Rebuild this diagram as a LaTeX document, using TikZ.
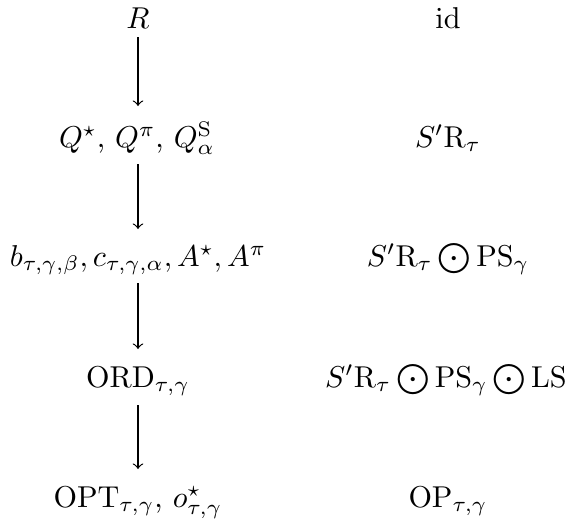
\documentclass[tikz,border=0pt]{standalone}
\usetikzlibrary{calc}
\begin{document}
\begin{tikzpicture}[x=0.3315pt,y=-0.3315pt,
  cell/.style={anchor=base,inner sep=0pt},
  flow/.style={->,line width=0.4pt}]
\useasboundingbox (0,0) rectangle (566,523);
% left column
\node[cell] (r) at (138,28) {$R$};
\node[cell] (q) at (137,147) {$Q^\star$, $Q^\pi$, $Q^{\mathrm{S}}_\alpha$};
\node[cell] (b) at (138,266) {$b_{\tau,\gamma,\beta}, c_{\tau,\gamma,\alpha}, A^\star, A^\pi$};
\node[cell] (ord) at (138,387) {$\mathrm{ORD}_{\tau,\gamma}$};
\node[cell] (opt) at (138,507) {$\mathrm{OPT}_{\tau,\gamma}$, $o^\star_{\tau,\gamma}$};
% right column
\node[cell] (id) at (448,28) {$\mathrm{id}$};
\node[cell] (s1) at (448,147) {$S'\mathrm{R}_\tau$};
\node[cell] (s2) at (448,266) {$S'\mathrm{R}_\tau \bigodot \mathrm{PS}_\gamma$};
\node[cell] (s3) at (446,387) {$S'\mathrm{R}_\tau \bigodot \mathrm{PS}_\gamma \bigodot \mathrm{LS}$};
\node[cell] (op) at (448,507) {$\mathrm{OP}_{\tau,\gamma}$};
% arrows
\draw[flow] ($(r.base)+(0,9)$) -- ($(q.base)+(1,-41)$);
\draw[flow] ($(q.base)+(1,17)$) -- ($(b.base)+(0,-37)$);
\draw[flow] ($(b.base)+(0,17)$) -- ($(ord.base)+(0,-38)$);
\draw[flow] ($(ord.base)+(0,18)$) -- ($(opt.base)+(0,-38)$);
\end{tikzpicture}
\end{document}
